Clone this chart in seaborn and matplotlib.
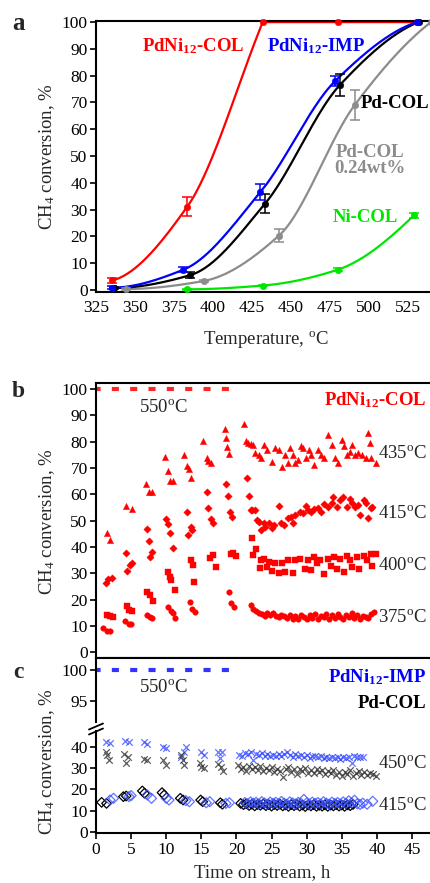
import numpy as np
import pandas as pd
import matplotlib
matplotlib.use("Agg")
import matplotlib.pyplot as plt
import seaborn as sns
from matplotlib import font_manager

# ---------------- panel a : light-off curves (T in degC, conversion in %) ----------------
temp_pdni_col = [335.5, 383.5, 432, 480.5, 531]
conv_pdni_col = [3.5, 31, 100, 100, 100]
err_pdni_col = [1.0, 3.5, 0, 0, 0]

temp_pdni_imp = [335, 381, 430.5, 478.5, 531]
conv_pdni_imp = [0.8, 7.5, 36.5, 78, 100]
err_pdni_imp = [0.5, 1.0, 3.0, 2.0, 0]

temp_pd_col = [336.5, 385.5, 433.5, 481.5, 532]
conv_pd_col = [0.7, 5.5, 32.2, 76.5, 100]
err_pd_col = [0.5, 1.0, 3.5, 4.0, 0]

temp_pd_low = [344, 394, 442.5, 491, 540]
conv_pd_low = [0.3, 3.3, 20.3, 69, 100]
err_pd_low = [0.3, 0.5, 2.5, 5.5, 0]

temp_ni_col = [383.5, 432, 480, 529]
conv_ni_col = [0.2, 1.6, 7.5, 27.8]
err_ni_col = [0.2, 0.3, 0.6, 0.8]

# ---------------- panel b : PdNi12-COL stability (time h, conversion %) ----------------
t_550 = [0.0, 19.4]
c_550 = [100, 100]

pts_435 = np.array([
    (1.5, 45.3), (2.0, 42.7), (4.3, 55.6), (5.1, 54.3), (7.1, 63.8), (7.5, 61.0), (8.0, 61.0),
    (9.8, 74.3), (10.2, 68.9), (10.5, 65.1), (10.9, 65.0), (12.6, 75.0), (12.9, 70.8), (13.2, 69.5),
    (13.5, 66.1), (15.3, 80.3), (15.8, 73.7), (16.0, 72.7), (16.4, 71.8), (18.3, 84.7), (18.5, 81.3),
    (18.7, 78.1), (19.0, 75.3),
    (21.1, 86.6), (21.4, 80.3), (21.7, 79.6), (22.0, 79.0), (22.3, 78.8), (22.7, 75.8), (23.2, 75.0),
    (23.5, 73.7), (23.9, 78.8), (24.3, 76.9), (25.0, 72.4), (25.5, 77.5), (26.0, 76.9), (26.5, 70.5),
    (26.9, 75.0), (27.3, 71.8), (27.6, 77.5), (28.0, 75.0), (28.3, 71.8), (28.7, 73.1), (29.2, 78.4),
    (29.5, 77.5), (29.9, 74.0), (30.3, 76.9), (30.6, 75.0), (31.1, 71.2), (31.6, 76.9), (32.1, 75.0),
    (32.5, 73.7), (33.1, 82.6), (33.6, 78.8), (34.0, 74.0), (34.4, 71.8), (35.0, 80.6), (35.3, 78.4),
    (35.7, 75.0), (36.2, 76.2), (36.5, 78.8), (36.9, 75.0), (37.3, 75.6), (37.9, 75.0), (38.4, 73.7),
    (38.7, 83.4), (39.0, 79.4), (39.2, 74.0), (39.8, 72.1)])

pts_415 = np.array([
    (1.4, 26.3), (1.7, 27.8), (2.3, 28.2), (4.3, 37.7), (4.4, 31.1), (4.8, 33.2), (5.1, 33.9),
    (7.3, 46.8), (7.6, 42.5), (7.7, 36.4), (8.0, 38.0), (9.9, 50.6), (10.3, 48.7), (10.5, 45.5),
    (10.9, 39.6), (13.0, 53.2), (13.1, 44.6), (13.5, 47.5), (13.7, 46.5), (15.8, 60.8), (16.0, 54.7),
    (16.4, 50.6), (16.6, 49.3), (18.5, 64.0), (18.8, 59.5), (19.1, 53.4), (19.3, 51.6),
    (21.5, 66.1), (21.8, 59.5), (22.0, 54.1), (22.2, 54.1), (22.6, 54.1), (22.9, 50.3), (23.2, 49.7),
    (23.5, 46.5), (23.9, 49.3), (24.1, 47.8), (24.7, 49.0), (25.0, 47.1), (25.4, 48.4), (26.1, 55.7),
    (26.3, 49.3), (26.8, 48.4), (27.3, 50.9), (27.7, 51.6), (28.0, 49.3), (28.4, 52.2), (29.0, 53.5),
    (29.5, 53.1), (29.9, 55.7), (30.2, 54.1), (30.6, 53.5), (31.1, 54.5), (31.6, 54.7), (32.1, 53.5),
    (32.5, 56.4), (33.0, 55.4), (33.6, 56.6), (33.8, 59.2), (34.3, 55.1), (34.7, 57.9), (35.2, 58.9),
    (35.7, 55.4), (36.2, 58.3), (36.5, 56.6), (36.9, 55.4), (37.3, 56.0), (37.6, 52.2), (38.1, 57.9),
    (38.5, 56.6), (38.8, 50.9), (39.1, 54.7), (39.3, 55.4)])

pts_400 = np.array([
    (1.5, 14.3), (2.0, 13.7), (2.4, 13.4), (4.4, 17.5), (4.7, 16.2), (5.1, 15.6), (7.3, 23.1),
    (7.7, 21.7), (8.1, 19.7), (10.3, 30.7), (10.5, 28.5), (10.7, 27.6), (11.2, 23.8), (13.5, 35.1),
    (13.8, 33.2), (14.0, 26.9), (16.2, 35.8), (16.6, 37.0), (17.1, 32.4), (19.2, 37.4), (19.5, 37.9),
    (20.0, 36.6),
    (22.2, 43.4), (22.4, 37.0), (22.8, 39.4), (23.3, 32.0), (23.5, 35.1), (23.9, 35.3), (24.3, 32.4),
    (24.7, 34.5), (25.0, 31.1), (25.5, 34.1), (26.0, 30.1), (26.5, 33.9), (26.9, 30.7), (27.4, 35.1),
    (28.0, 30.1), (28.4, 35.0), (29.0, 35.4), (29.7, 31.6), (30.2, 35.1), (30.6, 31.3), (31.1, 36.2),
    (31.4, 33.9), (31.9, 35.0), (32.4, 29.8), (33.0, 35.4), (33.5, 33.0), (33.9, 36.4), (34.3, 31.6),
    (34.7, 35.5), (35.3, 30.7), (35.7, 36.7), (36.1, 35.0), (36.5, 32.6), (37.1, 36.4), (37.5, 31.6),
    (38.1, 36.5), (38.6, 35.1), (39.1, 37.4), (39.3, 32.9), (39.8, 37.4)])

pts_375 = np.array([
    (1.06, 9.2), (1.5, 8.3), (2.0, 8.3), (4.2, 11.8), (4.7, 10.9), (5.0, 10.9), (7.3, 14.3),
    (7.7, 13.4), (8.0, 13.0), (10.3, 17.4), (10.7, 15.6), (10.9, 15.0), (11.2, 13.0), (13.4, 19.3),
    (13.7, 16.4), (14.1, 15.2), (18.9, 22.9), (19.2, 18.7), (19.6, 17.4),
    (22.1, 18.1), (22.4, 16.4), (22.8, 15.9), (23.2, 15.1), (23.6, 14.6), (24.0, 13.9), (24.4, 14.8),
    (24.8, 14.2), (25.2, 15.0), (25.6, 14.0), (26.0, 13.6), (26.4, 14.4), (26.8, 13.8), (27.2, 13.2),
    (27.6, 14.1), (28.0, 12.6), (28.4, 13.9), (28.8, 12.8), (29.2, 14.4), (29.6, 13.5), (30.0, 12.6),
    (30.4, 14.2), (30.8, 13.0), (31.2, 14.5), (31.6, 12.7), (32.0, 14.0), (32.4, 13.3), (32.8, 14.6),
    (33.2, 12.8), (33.6, 14.1), (34.0, 13.0), (34.4, 14.5), (34.8, 13.6), (35.2, 12.7), (35.6, 14.3),
    (36.0, 13.4), (36.4, 14.8), (36.8, 13.1), (37.2, 14.4), (37.6, 12.6), (38.0, 14.0), (38.4, 13.5),
    (38.8, 12.9), (39.2, 14.6), (39.6, 15.3)])

# ---------------- panel c : PdNi12-IMP (blue) and Pd-COL (black) ----------------
imp_450 = np.array([
    (1.4, 42.6), (2.0, 41.9), (4.2, 43.0), (4.7, 42.6), (6.8, 42.3), (7.3, 41.4), (9.5, 40.3),
    (10.0, 39.5), (12.1, 35.5), (12.5, 37.9), (12.8, 40.0), (14.9, 37.9), (15.4, 36.3), (17.4, 37.9),
    (17.9, 37.9), (17.7, 34.8),
    (20.4, 36.5), (20.8, 35.8), (21.2, 37.2), (21.6, 36.8), (22.0, 37.9), (22.4, 33.8), (22.8, 37.0),
    (23.2, 36.4), (23.6, 37.5), (24.0, 36.1), (24.4, 36.8), (24.8, 35.9), (25.2, 36.5), (25.6, 36.0),
    (26.0, 36.9), (26.4, 35.8), (26.8, 36.6), (27.2, 37.6), (27.6, 36.2), (28.0, 35.5), (28.4, 36.8),
    (28.8, 35.9), (29.2, 36.3), (29.6, 35.4), (30.0, 36.2), (30.4, 35.0), (30.8, 35.8), (31.2, 36.1),
    (31.6, 35.3), (32.0, 35.9), (32.4, 35.0), (32.8, 35.6), (33.2, 34.8), (33.6, 35.5), (34.0, 34.9),
    (34.4, 35.4), (34.8, 34.6), (35.2, 35.2), (35.6, 34.7), (36.0, 35.3), (36.4, 32.6), (36.8, 36.0),
    (37.2, 35.4), (37.6, 35.6), (38.0, 35.5)])

col_450 = np.array([
    (1.4, 37.9), (1.6, 36.3), (1.9, 34.0), (4.0, 36.8), (4.5, 35.5), (4.3, 32.4), (6.9, 34.4),
    (7.3, 34.0), (9.5, 34.0), (10.0, 31.6), (12.1, 36.3), (12.4, 34.0), (12.6, 31.6), (14.8, 32.7),
    (15.0, 30.8), (15.4, 30.0), (17.4, 32.1), (17.8, 30.8), (18.1, 28.8),
    (20.2, 31.5), (20.6, 29.6), (21.0, 30.8), (21.4, 28.9), (21.8, 31.2), (22.2, 29.5), (22.6, 30.6),
    (23.0, 29.0), (23.4, 30.9), (23.8, 28.6), (24.2, 30.2), (24.6, 29.3), (25.0, 30.5), (25.4, 28.4),
    (25.8, 29.9), (26.2, 28.8), (26.6, 26.0), (27.0, 29.7), (27.4, 30.6), (27.8, 28.3), (28.2, 29.5),
    (28.6, 27.4), (29.0, 29.8), (29.4, 28.6), (29.8, 30.1), (30.2, 28.0), (30.6, 29.2), (31.0, 27.6),
    (31.4, 29.5), (31.8, 28.3), (32.2, 29.0), (32.6, 27.2), (33.0, 28.8), (33.4, 27.9), (33.8, 29.3),
    (34.2, 27.0), (34.6, 28.5), (35.0, 26.4), (35.4, 28.2), (35.8, 27.5), (36.2, 29.0), (36.6, 26.2),
    (37.0, 27.8), (37.4, 28.9), (37.8, 27.0), (38.2, 28.4), (38.6, 26.8), (39.0, 27.9), (39.4, 27.2),
    (39.8, 26.6)])

col_415 = np.array([
    (0.8, 13.9), (1.5, 13.4), (3.9, 16.6), (4.3, 16.9), (6.6, 19.3), (6.9, 18.2), (9.4, 18.5),
    (9.7, 17.4), (12.0, 15.8), (12.4, 15.0), (14.9, 15.0), (15.2, 14.2), (17.7, 13.7), (18.0, 13.0),
    (20.6, 13.4), (21.0, 12.8), (21.4, 13.2), (21.8, 12.4), (22.2, 13.0), (22.6, 12.2), (23.0, 12.9),
    (23.4, 12.5), (23.8, 13.1), (24.2, 12.3), (24.6, 12.8), (25.0, 12.1), (25.4, 12.9), (25.8, 12.4),
    (26.2, 13.0), (26.6, 12.2), (27.0, 12.7), (27.4, 12.0), (27.8, 12.8), (28.2, 12.3), (28.6, 12.9),
    (29.0, 12.1), (29.4, 12.6), (29.8, 11.9), (30.2, 12.7), (30.6, 12.2), (31.0, 12.8), (31.4, 12.0),
    (31.8, 12.5), (32.2, 12.1), (32.6, 12.7), (33.0, 12.0), (33.4, 12.6), (33.8, 12.2), (34.2, 12.8),
    (34.6, 12.1), (35.0, 12.6), (35.4, 12.0), (35.8, 12.7), (36.2, 12.3), (36.6, 12.9)])

imp_415 = np.array([
    (2.0, 15.0), (2.5, 15.8), (4.7, 16.6), (5.0, 17.1), (7.3, 17.4), (7.9, 15.8), (10.0, 15.8),
    (10.4, 15.0), (12.8, 14.7), (13.3, 14.2), (15.7, 13.7), (16.2, 14.2), (18.5, 13.4), (19.0, 13.7),
    (21.2, 13.8), (21.6, 13.2), (22.0, 14.1), (22.4, 13.5), (22.8, 13.9), (23.2, 13.1), (23.6, 14.2),
    (24.0, 13.6), (24.4, 13.0), (24.8, 14.0), (25.2, 13.4), (25.6, 13.9), (26.0, 13.2), (26.4, 14.3),
    (26.8, 13.5), (27.2, 13.0), (27.6, 14.1), (28.0, 13.6), (28.4, 13.1), (28.8, 13.9), (29.2, 13.3),
    (29.6, 15.3), (30.0, 13.6), (30.4, 13.0), (30.8, 14.0), (31.2, 13.4), (31.6, 13.8), (32.0, 13.1),
    (32.4, 14.2), (32.8, 13.5), (33.2, 13.0), (33.6, 14.0), (34.0, 13.3), (34.4, 13.8), (34.8, 13.1),
    (35.2, 14.1), (35.6, 13.4), (36.0, 14.6), (36.4, 13.6), (36.8, 14.9), (37.2, 13.2), (37.6, 12.9),
    (38.0, 13.5), (38.6, 13.0), (39.4, 14.4)])

W, H = 431, 883
RED, BLUE, GREEN, GRAY = "#ff0000", "#0000ff", "#00e600", "#8c8c8c"


def smooth_curve(x, y, n=60):
    # monotone cubic through the measured points (corner where a plateau starts)
    x = np.asarray(x, float)
    y = np.asarray(y, float)
    h = np.diff(x)
    d = np.diff(y) / h
    k = len(x)
    m_in = np.zeros(k)
    m_out = np.zeros(k)
    for i in range(1, k - 1):
        if d[i - 1] * d[i] > 0:
            w1, w2 = 2 * h[i] + h[i - 1], h[i] + 2 * h[i - 1]
            m_in[i] = m_out[i] = (w1 + w2) / (w1 / d[i - 1] + w2 / d[i])
        else:
            m_in[i], m_out[i] = d[i - 1], d[i]

    def end_slope(h0, h1, d0, d1):
        m = ((2 * h0 + h1) * d0 - h0 * d1) / (h0 + h1)
        if np.sign(m) != np.sign(d0):
            m = 0.0
        return m

    m_out[0] = end_slope(h[0], h[1], d[0], d[1])
    m_in[-1] = end_slope(h[-1], h[-2], d[-1], d[-2])
    xs, ys = [], []
    t = np.linspace(0, 1, n)
    h00, h10 = 2 * t**3 - 3 * t**2 + 1, t**3 - 2 * t**2 + t
    h01, h11 = -2 * t**3 + 3 * t**2, t**3 - t**2
    for i in range(k - 1):
        xs.append(x[i] + t * h[i])
        ys.append(h00 * y[i] + h10 * h[i] * m_out[i] + h01 * y[i + 1] + h11 * h[i] * m_in[i + 1])
    return np.concatenate(xs), np.concatenate(ys)


sns.set_theme(style="ticks")
installed = {f.name for f in font_manager.fontManager.ttflist}
serif = [f for f in ["Liberation Serif", "Times New Roman", "Nimbus Roman", "DejaVu Serif"] if f in installed]
plt.rcParams["font.family"] = serif
# no Times-like face here: take the narrow cut of DejaVu Serif if it is present
plt.rcParams["font.stretch"] = "condensed"
plt.rcParams["mathtext.default"] = "regular"
plt.rcParams["axes.linewidth"] = 1.5
plt.rcParams["xtick.labelsize"] = 12.5
plt.rcParams["ytick.labelsize"] = 12.5
plt.rcParams["xtick.major.width"] = 1.2
plt.rcParams["ytick.major.width"] = 1.2
plt.rcParams["axes.edgecolor"] = "black"
plt.rcParams["xtick.color"] = "black"
plt.rcParams["ytick.color"] = "black"

fig = plt.figure(figsize=(W / 100, H / 100), dpi=100)


def box(left, top, right, bottom):
    return fig.add_axes([left / W, 1 - bottom / H, (right - left) / W, (bottom - top) / H])


def put(x, y, s, **kw):
    fig.text(x / W, 1 - y / H, s, **kw)


# ---------------- panel a ----------------
ax_a = box(96, 20.5, 431, 292)
series_a = [
    (temp_pdni_col, conv_pdni_col, err_pdni_col, RED),
    (temp_pd_low, conv_pd_low, err_pd_low, GRAY),
    (temp_pd_col, conv_pd_col, err_pd_col, "black"),
    (temp_pdni_imp, conv_pdni_imp, err_pdni_imp, BLUE),
    (temp_ni_col, conv_ni_col, err_ni_col, GREEN),
]
for temp, conv, err, col in series_a:
    xs, ys = smooth_curve(temp, conv)
    sns.lineplot(x=xs, y=ys, ax=ax_a, color=col, lw=1.6, sort=False, estimator=None)
    sns.scatterplot(x=temp, y=conv, ax=ax_a, color=col, edgecolor=col, s=22, zorder=4, clip_on=False)
    df = pd.DataFrame({"T": temp, "C": conv, "e": err})
    df = df[df["e"] > 0]
    ax_a.errorbar(df["T"], df["C"], yerr=df["e"], fmt="none", ecolor=col, elinewidth=1.1,
                  capsize=3.5, capthick=1.1, zorder=3)

ax_a.set_xlim(325, 540)
ax_a.set_ylim(-0.8, 100.6)
ax_a.set_xticks(np.arange(325, 526, 25))
ax_a.set_yticks(np.arange(0, 101, 10))
ax_a.tick_params(axis="x", length=0, pad=6)
ax_a.tick_params(axis="y", length=4, pad=2)
ax_a.spines["right"].set_visible(False)
ax_a.set_xlabel("")
ax_a.set_ylabel("")

bold = dict(fontsize=13.5, fontweight="bold", va="baseline")
put(193, 51, "PdNi$_{12}$-COL", color=RED, ha="center", **bold)
put(316, 51, "PdNi$_{12}$-IMP", color=BLUE, ha="center", **bold)
put(429, 108, "Pd-COL", color="black", ha="right", **bold)
put(370, 157, "Pd-COL", color=GRAY, ha="center", **bold)
put(370, 173, "0.24wt%", color=GRAY, ha="center", **bold)
put(365, 222, "Ni-COL", color=GREEN, ha="center", **bold)
put(19, 24, "a", fontsize=18, fontweight="bold", ha="center", va="center")
put(47, 157, "CH$_4$ conversion, %", fontsize=13.5, rotation=90, ha="center", va="center")
put(266, 340, "Temperature, $^{o}$C", fontsize=13.5, ha="center", va="center")

# ---------------- panel b ----------------
ax_b = box(96, 383.3, 431, 657.7)
sns.lineplot(x=t_550, y=c_550, ax=ax_b, color=RED, lw=3, alpha=0.85, linestyle=(0.6, (1.7, 2.7)))
mk = dict(color=RED, edgecolor=RED, linewidth=0.3, ax=ax_b, zorder=3)
sns.scatterplot(x=pts_435[:, 0], y=pts_435[:, 1], marker="^", s=20, **mk)
sns.scatterplot(x=pts_415[:, 0], y=pts_415[:, 1], marker="D", s=14, **mk)
sns.scatterplot(x=pts_400[:, 0], y=pts_400[:, 1], marker="s", s=13, **mk)
sns.scatterplot(x=pts_375[:, 0], y=pts_375[:, 1], marker="o", s=16, **mk)
ax_b.set_xlim(0, 47.7)
ax_b.set_ylim(-2, 102.2)
ax_b.set_yticks(np.arange(0, 101, 10))
ax_b.tick_params(axis="x", bottom=False, labelbottom=False)
ax_b.tick_params(axis="y", length=4, pad=2)
ax_b.spines["right"].set_visible(False)
ax_b.set_xlabel("")
ax_b.set_ylabel("")

reg = dict(fontsize=13.5, va="baseline")
put(163, 412, "550$^{o}$C", ha="center", **reg)
put(426, 405, "PdNi$_{12}$-COL", color=RED, ha="right", **bold)
put(378, 458, "435$^{o}$C", ha="left", **reg)
put(378, 518, "415$^{o}$C", ha="left", **reg)
put(378, 570, "400$^{o}$C", ha="left", **reg)
put(378, 622, "375$^{o}$C", ha="left", **reg)
put(18, 392, "b", fontsize=17, fontweight="bold", ha="center", va="center")
put(47, 522, "CH$_4$ conversion, %", fontsize=13.5, rotation=90, ha="center", va="center")

# ---------------- panel c (broken y axis) ----------------
ax_ct = box(96, 657.7, 431, 722)
ax_cb = box(96, 731, 431, 832.7)
sns.lineplot(x=t_550, y=c_550, ax=ax_ct, color=BLUE, lw=3, alpha=0.8, linestyle=(0.6, (1.7, 2.7)))
ax_ct.set_xlim(0, 47.7)
ax_ct.set_ylim(95 - (722 - 700.7) / 6.14, 102)
ax_ct.set_yticks([95, 100])
ax_ct.tick_params(axis="x", bottom=False, labelbottom=False)
ax_ct.tick_params(axis="y", length=4, pad=2)
for s in ["right", "bottom"]:
    ax_ct.spines[s].set_visible(False)
ax_ct.set_xlabel("")
ax_ct.set_ylabel("")

sns.scatterplot(x=imp_450[:, 0], y=imp_450[:, 1], ax=ax_cb, marker="x", s=22, color="#2f45ff",
                alpha=0.75, linewidth=0.9, zorder=3)
sns.scatterplot(x=col_450[:, 0], y=col_450[:, 1], ax=ax_cb, marker="x", s=22, color="#333333",
                alpha=0.8, linewidth=0.9, zorder=3)
sns.scatterplot(x=col_415[:, 0], y=col_415[:, 1], ax=ax_cb, marker="D", s=24, facecolor="none",
                edgecolor="black", linewidth=0.9, zorder=3)
sns.scatterplot(x=imp_415[:, 0], y=imp_415[:, 1], ax=ax_cb, marker="D", s=26, facecolor="none",
                edgecolor="#3a50ff", alpha=0.8, linewidth=0.9, zorder=4)
ax_cb.set_xlim(0, 47.7)
ax_cb.set_ylim(-0.5, (831.7 - 731) / 2.11)
ax_cb.set_yticks(np.arange(0, 41, 10))
ax_cb.set_xticks(np.arange(0, 46, 5))
ax_cb.tick_params(axis="x", length=4, pad=3)
ax_cb.tick_params(axis="y", length=4, pad=2)
for s in ["right", "top"]:
    ax_cb.spines[s].set_visible(False)
ax_cb.set_xlabel("")
ax_cb.set_ylabel("")

# break marks on the left spine
for dy in (-2.5, 2.5):
    fig.add_artist(plt.Line2D([89 / W, 103 / W], [1 - (729 + dy + 3) / H, 1 - (729 + dy - 3) / H],
                              color="black", lw=1.3))

put(163, 692, "550$^{o}$C", ha="center", **reg)
put(426, 682, "PdNi$_{12}$-IMP", color=BLUE, ha="right", **bold)
put(426, 708, "Pd-COL", color="black", ha="right", **bold)
put(378, 768, "450$^{o}$C", ha="left", **reg)
put(378, 810, "415$^{o}$C", ha="left", **reg)
put(18, 672, "c", fontsize=17, fontweight="bold", ha="center", va="center")
put(47, 762, "CH$_4$ conversion, %", fontsize=13.5, rotation=90, ha="center", va="center")
put(262, 864, "Time on stream, h", fontsize=13.5, ha="center", va="top")

fig.savefig("out.png", dpi=100)
